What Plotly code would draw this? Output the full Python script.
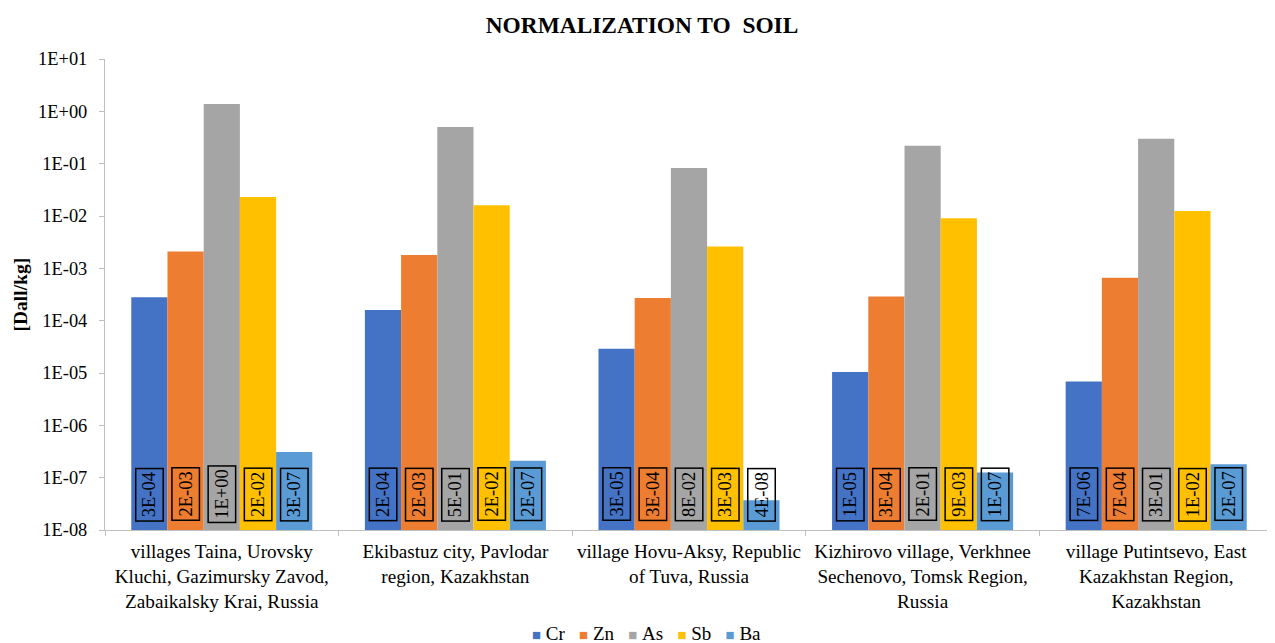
import plotly.graph_objects as go

categories = [
    "villages Taina, Urovsky<br>Kluchi, Gazimursky Zavod,<br>Zabaikalsky Krai, Russia",
    "Ekibastuz city, Pavlodar<br>region, Kazakhstan",
    "village Hovu-Aksy, Republic<br>of Tuva, Russia",
    "Kizhirovo village, Verkhnee<br>Sechenovo, Tomsk Region,<br>Russia",
    "village Putintsevo, East<br>Kazakhstan Region,<br>Kazakhstan",
]
series_names = ["Cr", "Zn", "As", "Sb", "Ba"]
cr = [2.8e-4, 1.6e-4, 2.9e-5, 1.05e-5, 6.9e-6]
zn = [2.1e-3, 1.8e-3, 2.7e-4, 2.9e-4, 6.6e-4]
as_ = [1.38, 0.50, 0.083, 0.22, 0.30]
sb = [0.023, 0.016, 0.0026, 0.0091, 0.0124]
ba = [3.1e-7, 2.1e-7, 3.7e-8, 1.26e-7, 1.8e-7]
series_values = [cr, zn, as_, sb, ba]
colors = ["#4472C4", "#ED7D31", "#A5A5A5", "#FFC000", "#5B9BD5"]
tick_vals = [1e1, 1e0, 1e-1, 1e-2, 1e-3, 1e-4, 1e-5, 1e-6, 1e-7, 1e-8]
tick_text = ["1E+01", "1E+00", "1E-01", "1E-02", "1E-03", "1E-04", "1E-05", "1E-06", "1E-07", "1E-08"]

FONT = "Liberation Serif, Times New Roman, serif"
bargap = 0.225
W, H = 1267, 635  # page body has an 8px margin
L, T, R, B = 97, 51, 2, 113
PW = W - L - R
PH = H - T - B

fig = go.Figure()
for name, vals, col in zip(series_names, series_values, colors):
    fig.add_trace(go.Bar(name=name, x=categories, y=vals, showlegend=False,
                         marker=dict(color=col, line=dict(width=0))))

annotations = []
n = len(series_names)
bw = (1 - bargap) / n
for si, vals in enumerate(series_values):
    for ci, v in enumerate(vals):
        annotations.append(dict(
            x=ci + (si - (n - 1) / 2) * bw, xref="x",
            y=-7.32, yref="y",
            text="{:.0E}".format(v), textangle=-90, showarrow=False,
            font=dict(family=FONT, size=18.5, color="black"),
            bordercolor="black", borderwidth=1.5, borderpad=3,
        ))
annotations.append(dict(
    x=(12 - L) / PW, xref="paper", y=0.5, yref="paper", xanchor="center", yanchor="middle",
    text="<b>[Dall/kg]</b>", textangle=-90,
    showarrow=False, font=dict(family=FONT, size=19.5, color="black"),
))

# legend drawn as a text row: coloured square + series name
legend_parts = []
for name, col in zip(series_names, colors):
    legend_parts.append("<span style='color:%s;font-size:15px'>\u25A0</span>\u00a0%s" % (col, name))
annotations.append(dict(
    x=(638 - L) / PW, xref="paper", y=-103 / PH, yref="paper", xanchor="center", yanchor="middle",
    text="\u00a0\u00a0\u00a0".join(legend_parts), showarrow=False,
    font=dict(family=FONT, size=19, color="black"),
))

fig.update_layout(
    width=W, height=H,
    margin=dict(l=L, r=R, t=T, b=B, autoexpand=False),
    paper_bgcolor="white", plot_bgcolor="white",
    barmode="group", bargap=bargap, bargroupgap=0,
    title=dict(text="<b>NORMALIZATION TO\u00a0 SOIL</b>", x=634 / W, xref="container", xanchor="center",
               y=1 - 17 / H, yref="container", yanchor="middle",
               font=dict(family=FONT, size=23.4, color="black")),
    font=dict(family=FONT, size=19, color="black"),
    showlegend=False,
    annotations=annotations,
)
fig.update_xaxes(showline=True, linecolor="#BFBFBF", linewidth=1, ticks="outside", tickson="boundaries",
                 ticklen=5, tickcolor="#BFBFBF", showgrid=False, tickangle=0, ticklabelstandoff=4,
                 tickfont=dict(family=FONT, size=19.2, color="black"))
fig.update_yaxes(type="log", range=[-8, 1], showline=True, linecolor="#BFBFBF", linewidth=1,
                 ticks="outside", ticklen=5, tickcolor="#BFBFBF", showgrid=False, zeroline=False,
                 tickvals=tick_vals, ticktext=tick_text, ticklabelstandoff=8,
                 tickfont=dict(family=FONT, size=18.4, color="black"))

fig.write_html("out.html")
